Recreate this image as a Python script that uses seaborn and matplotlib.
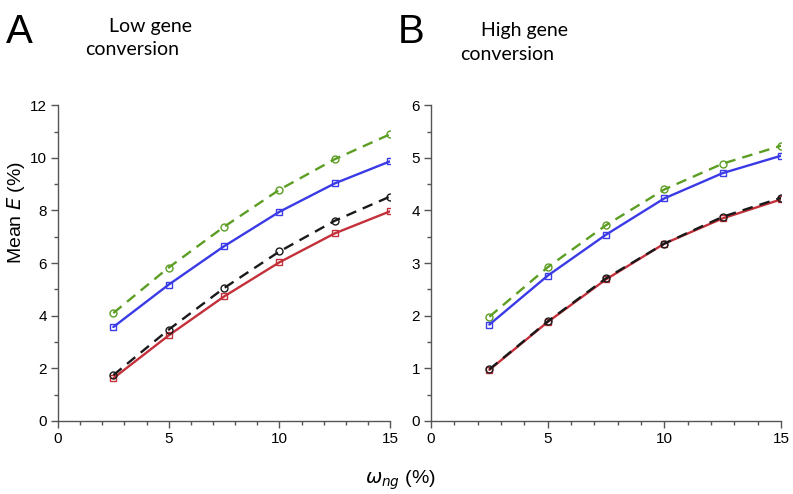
import numpy as np
import pandas as pd
import seaborn as sns
from matplotlib import pyplot as plt
from matplotlib.ticker import MultipleLocator

# 数据 (omega_ng, %)
omega = [2.5, 5, 7.5, 10, 12.5, 15]

# A: low gene conversion
low_green = [4.10, 5.83, 7.38, 8.79, 9.95, 10.90]
low_blue = [3.57, 5.18, 6.64, 7.95, 9.03, 9.87]
low_black = [1.74, 3.47, 5.05, 6.44, 7.61, 8.53]
low_red = [1.62, 3.25, 4.73, 6.03, 7.13, 7.97]

# B: high gene conversion
high_green = [1.98, 2.92, 3.72, 4.40, 4.89, 5.23]
high_blue = [1.83, 2.76, 3.54, 4.23, 4.71, 5.04]
high_black = [0.98, 1.89, 2.71, 3.37, 3.88, 4.24]
high_red = [0.97, 1.88, 2.69, 3.37, 3.85, 4.21]

panel_letters = ['A', 'B']
panel_titles = [['Low gene', 'conversion'], ['High gene', 'conversion']]

# 风格
sns.set_style("ticks")
plt.rcParams['font.family'] = ['Liberation Sans', 'DejaVu Sans']
plt.rcParams['mathtext.fontset'] = 'dejavusans'

series_style = {
    'green': dict(color='#5c9e24', marker='o', linestyle=(0, (4.5, 3))),
    'blue': dict(color='#3a3ae6', marker='s', linestyle='-'),
    'red': dict(color='#c4303a', marker='s', linestyle='-'),
    'black': dict(color='#1a1a1a', marker='o', linestyle=(0, (4.5, 3))),
}

fig = plt.figure(figsize=(7.93, 4.94), dpi=100)
ax1 = fig.add_axes([0.0731, 0.148, 0.419, 0.639])
ax2 = fig.add_axes([0.5435, 0.148, 0.4415, 0.639])

def draw(ax, green, blue, black, red):
    for name, vals in [('green', green), ('blue', blue), ('red', red), ('black', black)]:
        st = series_style[name]
        sns.lineplot(x=omega, y=vals, ax=ax, color=st['color'], linestyle=st['linestyle'],
                     marker=st['marker'], markersize=5, markerfacecolor='none',
                     markeredgecolor=st['color'], markeredgewidth=1.0, linewidth=1.7)
    ax.set_xlim(0, 15)
    ax.xaxis.set_major_locator(MultipleLocator(5))
    ax.xaxis.set_minor_locator(MultipleLocator(1))
    sns.despine(ax=ax)
    for sp in ['left', 'bottom']:
        ax.spines[sp].set_color('#555555')
        ax.spines[sp].set_linewidth(1.0)
    ax.tick_params(which='major', length=5, width=1, color='#555555', labelsize=11,
                   labelcolor='black', pad=3)
    ax.tick_params(which='minor', length=3, width=1, color='#555555')
    ax.set_xlabel('')
    ax.set_ylabel('')

draw(ax1, low_green, low_blue, low_black, low_red)
ax1.set_ylim(0, 12)
ax1.yaxis.set_major_locator(MultipleLocator(2))
ax1.yaxis.set_minor_locator(MultipleLocator(1))

draw(ax2, high_green, high_blue, high_black, high_red)
ax2.set_ylim(0, 6)
ax2.yaxis.set_major_locator(MultipleLocator(1))
ax2.yaxis.set_minor_locator(MultipleLocator(0.5))

# 面板字母和标题
fig.text(0.008, 0.935, panel_letters[0], fontsize=29, va='center', ha='left', color='black')
fig.text(0.502, 0.935, panel_letters[1], fontsize=29, va='center', ha='left', color='black')
fig.text(0.137, 0.947, panel_titles[0][0], fontsize=14, family='Lato', va='center', ha='left', color='black')
fig.text(0.107, 0.900, panel_titles[0][1], fontsize=14, family='Lato', va='center', ha='left', color='black')
fig.text(0.607, 0.939, panel_titles[1][0], fontsize=14, family='Lato', va='center', ha='left', color='black')
fig.text(0.580, 0.889, panel_titles[1][1], fontsize=14, family='Lato', va='center', ha='left', color='black')

fig.text(0.020, 0.57, 'Mean $\\mathit{E}$ (%)', rotation=90, fontsize=14, va='center', ha='center', color='black')
fig.text(0.505, 0.028, '$\\omega_{ng}$ (%)', fontsize=14, va='center', ha='center', color='black')

plt.savefig('out.png', dpi=100)
